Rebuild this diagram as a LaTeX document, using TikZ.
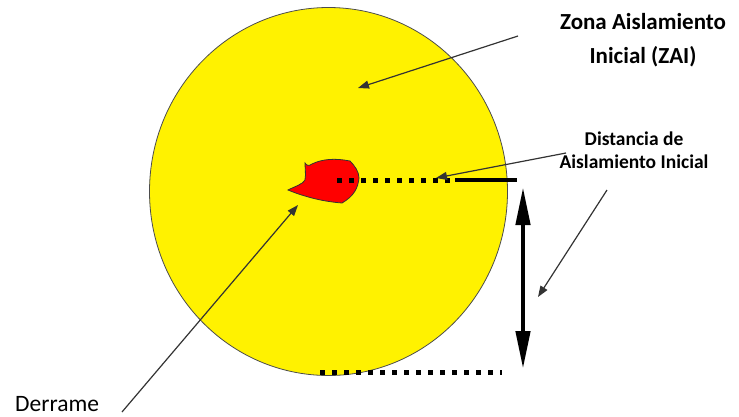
\documentclass[tikz,border=0pt]{standalone}
\usepackage{fontspec}
\setmainfont{Carlito}
\usetikzlibrary{arrows.meta,shapes.geometric}
\begin{document}
\begin{tikzpicture}[x=1pt,y=-1pt,
  thinarrow/.style={draw=black!80,line width=1.2pt,-{Triangle[length=11pt,width=8pt]}},
  dotline/.style={line width=5pt,dash pattern=on 5pt off 7pt},
  lbl/.style={align=center,inner sep=0pt,text=black}]
\useasboundingbox (0,0) rectangle (739,416);
% zone circle
\node[ellipse,draw=black!70,line width=0.8pt,fill=yellow,minimum width=358pt,minimum height=368pt,inner sep=0pt] (zai) at (328.5,191.5) {};
% spill
\draw[fill=red,draw=black!80,line width=0.8pt]
  (288,190) .. controls (296,186) and (303,184) .. (305,180)
  .. controls (306,174) and (305,168) .. (305,163)
  .. controls (307,166) and (309,166) .. (312,164)
  .. controls (322,159) and (335,158) .. (350,161)
  .. controls (355,166) and (359,172) .. (359,178)
  .. controls (358,188) and (354,196) .. (342,203)
  .. controls (330,202) and (318,200) .. (305,196)
  .. controls (298,194) and (293,192) .. (288,190) -- cycle;
\coordinate (spill) at (298,205);
% distance lines
\coordinate (d1) at (337,180);
\coordinate (d2) at (455,180);
\coordinate (d3) at (517,180);
\draw[dotline] (d1) -- (d2);
\draw[line width=4pt] (d2) -- (d3);
\coordinate (b1) at (320,372);
\coordinate (b2) at (502,372);
\draw[dotline] (b1) -- (b2);
\coordinate (v1) at (523,187);
\coordinate (v2) at (523,369);
\draw[line width=4.5pt,{Triangle[length=38pt,width=14pt]}-{Triangle[length=38pt,width=14pt]}] (v1) -- (v2);
% labels
\node[lbl,anchor=base,font=\bfseries\fontsize{23}{34}\selectfont] (tzai) at (643,63) {Zona Aislamiento\\Inicial (ZAI)};
\node[lbl,anchor=base,font=\bfseries\fontsize{19.5}{23}\selectfont] (tdist) at (634,168) {Distancia de\\Aislamiento Inicial};
\node[lbl,anchor=base west,font=\fontsize{23.5}{28}\selectfont] (tder) at (15,411) {Derrame};
% arrows
\coordinate (zs) at (518,36);
\coordinate (zt) at (358,88);
\draw[thinarrow] (zs) -- (zt);
\coordinate (ds) at (566,153);
\coordinate (dt) at (436,178);
\draw[thinarrow] (ds) -- (dt);
\coordinate (es) at (607,190);
\coordinate (et) at (538,297);
\draw[thinarrow] (es) -- (et);
\coordinate (rs) at (122,412);
\draw[thinarrow] (rs) -- (spill);
\end{tikzpicture}
\end{document}
